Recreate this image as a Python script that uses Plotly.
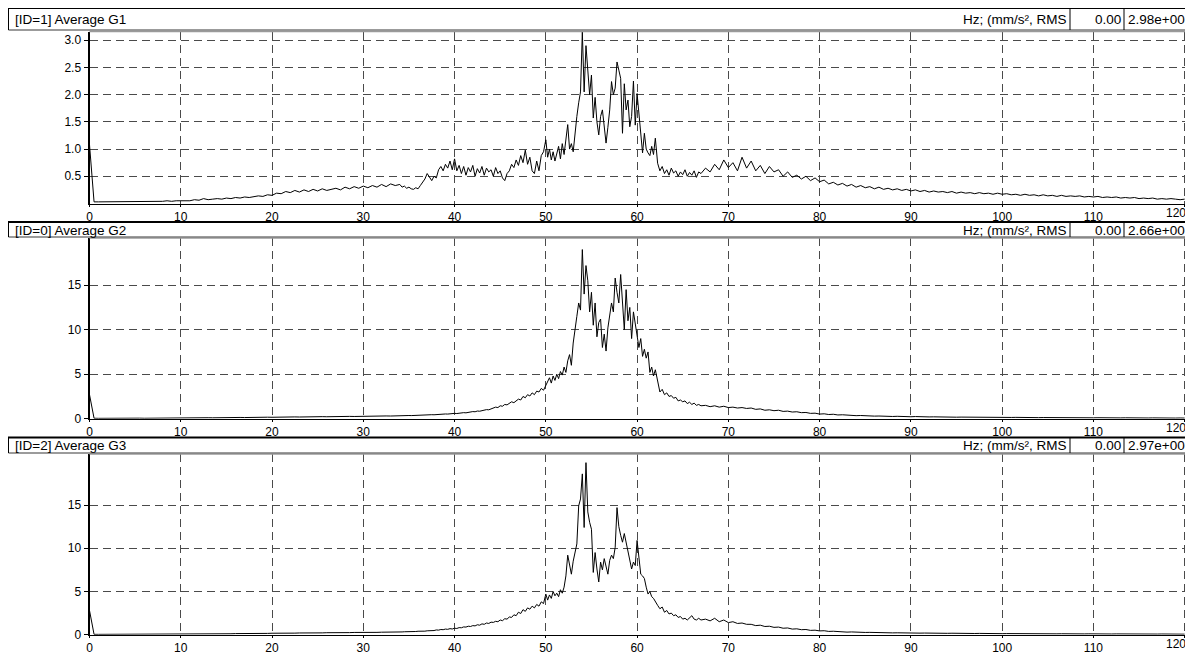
import plotly.graph_objects as go

# ---------------- data ----------------
# frequency grid: each series is stored in five segments, each segment
# starting at SEG_START with spacing SEG_STEP (Hz)
SEG_START = [0.0, 34.25, 50.2, 62.25, 67.5]
SEG_STEP = [0.5, 0.25, 0.2, 0.25, 0.5]

g1_low = [1.08, 0.03, 0.03, 0.03, 0.03, 0.03, 0.03, 0.03, 0.03, 0.03,
          0.03, 0.03, 0.03, 0.03, 0.03, 0.035, 0.04, 0.05, 0.04, 0.05,
          0.05, 0.06, 0.05, 0.07, 0.06, 0.09, 0.07, 0.08, 0.09, 0.08,
          0.10, 0.09, 0.11, 0.10, 0.12, 0.11, 0.13, 0.14, 0.13, 0.16,
          0.15, 0.19, 0.18, 0.22, 0.20, 0.24, 0.21, 0.25, 0.22, 0.26,
          0.23, 0.27, 0.24, 0.26, 0.28, 0.25, 0.30, 0.27, 0.31, 0.28,
          0.32, 0.29, 0.33, 0.30, 0.35, 0.31, 0.36, 0.33, 0.35]
g1_rise = [0.30, 0.32, 0.28, 0.30, 0.27, 0.26, 0.29, 0.27, 0.33, 0.38,
           0.45, 0.55, 0.48, 0.42, 0.50, 0.47, 0.62, 0.68, 0.60, 0.72,
           0.65, 0.78, 0.62, 0.82, 0.60, 0.70, 0.55, 0.68, 0.52, 0.66,
           0.58, 0.70, 0.50, 0.64, 0.56, 0.68, 0.52, 0.65, 0.58, 0.62,
           0.50, 0.66, 0.55, 0.60, 0.47, 0.42, 0.55, 0.60, 0.72, 0.66,
           0.80, 0.70, 0.88, 0.75, 0.98, 0.72, 0.85, 0.60, 0.55, 0.78,
           0.60, 0.88, 0.95, 1.17]
g1_peak = [0.85, 1.00, 0.80, 0.95, 0.78, 0.90, 1.05, 0.82, 1.10, 0.90,
           1.20, 1.45, 1.00, 1.10, 0.95, 1.30, 1.60, 1.85, 2.05, 3.15,
           2.05, 2.90, 2.40, 2.00, 2.36, 1.57, 1.95, 1.50, 1.26, 1.60,
           1.72, 1.35, 1.11, 1.40, 1.72, 2.24, 2.00, 2.12, 2.60, 2.45,
           2.30, 1.29, 2.20, 1.72, 1.90, 1.41, 1.60, 2.25, 1.44, 2.02,
           1.65, 1.41, 0.93, 1.29, 1.00, 0.93, 0.88, 1.05, 0.90, 1.20]
g1_fall = [0.74, 0.60, 0.68, 0.55, 0.62, 0.52, 0.65, 0.56, 0.60, 0.50,
           0.58, 0.53, 0.62, 0.50, 0.57, 0.52, 0.60, 0.48, 0.58, 0.55]
g1_tail = [0.65, 0.58, 0.72, 0.62, 0.80, 0.66, 0.75, 0.60, 0.85, 0.65,
           0.78, 0.60, 0.70, 0.55, 0.68, 0.58, 0.62, 0.50, 0.58, 0.48,
           0.52, 0.45, 0.50, 0.42, 0.47, 0.40, 0.43, 0.36, 0.39, 0.34,
           0.37, 0.32, 0.35, 0.30, 0.33, 0.29, 0.31, 0.27, 0.30, 0.26,
           0.28, 0.25, 0.27, 0.24, 0.26, 0.23, 0.25, 0.22, 0.24, 0.21,
           0.23, 0.21, 0.22, 0.20, 0.22, 0.19, 0.21, 0.19, 0.20, 0.18,
           0.20, 0.18, 0.19, 0.17, 0.19, 0.17, 0.18, 0.16, 0.17, 0.15,
           0.17, 0.15, 0.16, 0.14, 0.16, 0.14, 0.15, 0.13, 0.15, 0.13,
           0.14, 0.13, 0.14, 0.12, 0.13, 0.12, 0.13, 0.11, 0.12, 0.11,
           0.12, 0.10, 0.11, 0.10, 0.11, 0.09, 0.10, 0.09, 0.10, 0.08,
           0.09, 0.08, 0.09, 0.08, 0.07, 0.08]

g2_low = [2.70, 0.05, 0.04, 0.05, 0.04, 0.05, 0.05, 0.04, 0.05, 0.05,
          0.05, 0.06, 0.05, 0.06, 0.06, 0.07, 0.06, 0.07, 0.08, 0.07,
          0.08, 0.09, 0.08, 0.10, 0.09, 0.10, 0.11, 0.10, 0.12, 0.11,
          0.12, 0.13, 0.12, 0.14, 0.13, 0.15, 0.14, 0.16, 0.15, 0.17,
          0.16, 0.18, 0.17, 0.19, 0.18, 0.20, 0.19, 0.21, 0.20, 0.22,
          0.21, 0.23, 0.22, 0.24, 0.23, 0.25, 0.24, 0.26, 0.25, 0.27,
          0.27, 0.29, 0.28, 0.30, 0.29, 0.31, 0.30, 0.33, 0.32]
g2_rise = [0.33, 0.35, 0.34, 0.36, 0.35, 0.37, 0.36, 0.38, 0.40, 0.39,
           0.41, 0.43, 0.42, 0.45, 0.44, 0.47, 0.46, 0.50, 0.49, 0.53,
           0.52, 0.56, 0.55, 0.60, 0.58, 0.64, 0.62, 0.68, 0.66, 0.72,
           0.75, 0.80, 0.78, 0.86, 0.84, 0.92, 0.95, 1.02, 1.00, 1.10,
           1.15, 1.30, 1.25, 1.45, 1.40, 1.60, 1.55, 1.75, 1.90, 1.80,
           2.05, 2.20, 2.10, 2.50, 2.35, 2.70, 2.55, 2.90, 2.70, 3.10,
           3.00, 3.40, 3.20, 3.80]
g2_peak = [4.2, 4.6, 4.0, 4.8, 4.3, 5.0, 4.5, 5.3, 4.9, 5.8,
           5.2, 6.5, 7.2, 6.0, 8.5, 9.8, 11.5, 13.0, 12.2, 19.0,
           14.0, 17.2, 15.5, 12.0, 14.2, 10.5, 13.0, 9.2, 10.8, 11.2,
           8.0, 9.5, 7.6, 10.2, 11.5, 13.0, 12.0, 15.8, 14.2, 13.0,
           16.2, 12.5, 10.0, 14.5, 11.0, 12.5, 9.0, 12.0, 10.5, 9.0,
           8.0, 9.0, 7.0, 7.8, 6.8, 7.5, 5.2, 5.8, 4.8, 5.5]
g2_fall = [4.0, 3.0, 3.3, 2.7, 2.9, 2.5, 2.6, 2.3, 2.4, 2.0,
           2.1, 1.9, 2.0, 1.7, 1.85, 1.6, 1.75, 1.5, 1.6, 1.45]
g2_tail = [1.50, 1.35, 1.45, 1.30, 1.40, 1.25, 1.30, 1.20, 1.25, 1.15,
           1.20, 1.05, 1.10, 0.95, 1.00, 0.90, 0.95, 0.82, 0.85, 0.75,
           0.78, 0.68, 0.70, 0.60, 0.62, 0.52, 0.55, 0.47, 0.50, 0.42,
           0.44, 0.38, 0.40, 0.34, 0.36, 0.31, 0.33, 0.29, 0.30, 0.27,
           0.28, 0.25, 0.27, 0.24, 0.25, 0.22, 0.24, 0.21, 0.22, 0.20,
           0.21, 0.19, 0.20, 0.18, 0.19, 0.17, 0.18, 0.17, 0.18, 0.16,
           0.17, 0.15, 0.16, 0.15, 0.16, 0.14, 0.15, 0.14, 0.15, 0.13,
           0.14, 0.13, 0.14, 0.12, 0.13, 0.12, 0.13, 0.11, 0.12, 0.11,
           0.12, 0.10, 0.11, 0.10, 0.11, 0.10, 0.11, 0.09, 0.10, 0.09,
           0.10, 0.09, 0.10, 0.08, 0.09, 0.08, 0.09, 0.08, 0.09, 0.07,
           0.08, 0.07, 0.08, 0.07, 0.08, 0.07]

g3_low = [2.80, 0.04, 0.04, 0.04, 0.04, 0.04, 0.05, 0.04, 0.05, 0.04,
          0.05, 0.05, 0.05, 0.06, 0.05, 0.06, 0.06, 0.07, 0.06, 0.07,
          0.07, 0.08, 0.07, 0.09, 0.08, 0.10, 0.09, 0.10, 0.11, 0.10,
          0.12, 0.11, 0.13, 0.12, 0.14, 0.13, 0.15, 0.14, 0.16, 0.15,
          0.17, 0.16, 0.18, 0.17, 0.19, 0.18, 0.20, 0.19, 0.21, 0.20,
          0.22, 0.21, 0.23, 0.22, 0.24, 0.23, 0.25, 0.24, 0.26, 0.25,
          0.27, 0.26, 0.28, 0.27, 0.29, 0.28, 0.30, 0.29, 0.31]
g3_rise = [0.32, 0.34, 0.33, 0.36, 0.35, 0.38, 0.37, 0.40, 0.39, 0.42,
           0.41, 0.45, 0.44, 0.50, 0.48, 0.55, 0.53, 0.60, 0.58, 0.65,
           0.62, 0.70, 0.66, 0.75, 0.72, 0.82, 0.80, 0.90, 0.88, 0.98,
           0.95, 1.05, 1.02, 1.15, 1.10, 1.25, 1.20, 1.35, 1.30, 1.45,
           1.42, 1.55, 1.50, 1.70, 1.62, 1.85, 1.80, 2.05, 2.00, 2.30,
           2.20, 2.60, 2.45, 2.90, 2.70, 3.10, 2.95, 3.30, 3.10, 3.50,
           3.30, 3.80, 3.60, 4.70]
g3_peak = [4.0, 4.6, 4.2, 5.0, 4.5, 4.8, 4.4, 5.2, 4.8, 5.5,
           6.8, 9.2, 8.0, 7.0, 8.5, 9.6, 10.5, 14.9, 15.7, 18.6,
           12.4, 19.9, 14.2, 13.0, 12.2, 7.2, 9.5, 7.6, 6.1, 8.4,
           7.5, 8.8, 7.8, 7.0, 8.6, 9.2, 8.8, 10.1, 14.7, 12.5,
           11.5, 10.7, 11.7, 10.7, 9.5, 8.8, 7.6, 8.4, 8.0, 10.9,
           8.5, 7.0, 6.8, 6.5, 5.5, 4.7, 5.0, 4.4, 4.2, 3.8]
g3_fall = [3.4, 3.0, 3.2, 2.6, 2.8, 2.4, 2.5, 2.2, 2.3, 2.0,
           2.1, 1.8, 1.9, 1.7, 1.9, 2.2, 1.8, 1.7, 1.9, 1.7]
g3_tail = [1.80, 1.60, 1.90, 1.50, 1.70, 1.40, 1.50, 1.30, 1.35, 1.20,
           1.20, 1.05, 1.10, 0.95, 0.98, 0.85, 0.88, 0.75, 0.78, 0.65,
           0.68, 0.58, 0.60, 0.50, 0.52, 0.44, 0.46, 0.38, 0.40, 0.34,
           0.35, 0.30, 0.32, 0.28, 0.29, 0.26, 0.27, 0.24, 0.25, 0.22,
           0.23, 0.21, 0.22, 0.20, 0.21, 0.19, 0.20, 0.18, 0.19, 0.17,
           0.18, 0.16, 0.17, 0.16, 0.17, 0.15, 0.16, 0.14, 0.15, 0.14,
           0.15, 0.13, 0.14, 0.13, 0.14, 0.12, 0.13, 0.12, 0.13, 0.11,
           0.12, 0.11, 0.12, 0.10, 0.11, 0.10, 0.11, 0.10, 0.11, 0.09,
           0.10, 0.09, 0.10, 0.09, 0.10, 0.08, 0.09, 0.08, 0.09, 0.08,
           0.09, 0.08, 0.09, 0.07, 0.08, 0.07, 0.08, 0.07, 0.08, 0.07,
           0.08, 0.07, 0.08, 0.07, 0.07, 0.06]

titles = ["[ID=1] Average G1", "[ID=0] Average G2", "[ID=2] Average G3"]
unit_label = "Hz; (mm/s², RMS"
cursor_x = ["0.00", "0.00", "0.00"]
cursor_y = ["2.98e+00", "2.66e+00", "2.97e+00"]
x_ticks = [0, 10, 20, 30, 40, 50, 60, 70, 80, 90, 100, 110, 120]
y_ticks = [[0.5, 1.0, 1.5, 2.0, 2.5, 3.0], [0, 5, 10, 15], [0, 5, 10, 15]]
y_max = [3.16, 20.3, 20.9]

series = [
    [g1_low, g1_rise, g1_peak, g1_fall, g1_tail],
    [g2_low, g2_rise, g2_peak, g2_fall, g2_tail],
    [g3_low, g3_rise, g3_peak, g3_fall, g3_tail],
]

# ---------------- layout geometry (screen pixels) ----------------
# the page body has an 8px margin, so the figure starts at (8, 8) on screen
OFF = 8
FW, FH = 1193 - OFF, 653 - OFF
FONT = "Liberation Sans, Arial, sans-serif"
# (header top, header bottom, plot top, plot bottom) in screen pixels
panels_px = [(8, 30, 31.5, 203.5), (222, 237, 238, 418.7), (437.5, 453, 454, 634.7)]
X_LEFT, X_RIGHT = 89.5, 1186.5
HDR_L, HDR_R = 8.5, 1188
SEP1, SEP2 = 1070, 1124


def fx(p):
    return (p - OFF) / FW


def fy(p):
    return 1 - (p - OFF) / FH


def build(segs):
    xs, ys = [], []
    for start, step, vals in zip(SEG_START, SEG_STEP, segs):
        for i, v in enumerate(vals):
            xs.append(round(start + step * i, 4))
            ys.append(v)
    return xs, ys


fig = go.Figure()
shapes = []
annotations = []
layout_axes = {}

for k in range(3):
    n = "" if k == 0 else str(k + 1)
    xs, ys = build(series[k])
    fig.add_trace(go.Scatter(
        x=xs, y=ys, mode="lines", line=dict(color="black", width=1),
        xaxis="x" + n, yaxis="y" + n, showlegend=False, hoverinfo="x+y"))

    htop, hbot, ptop, pbot = panels_px[k]
    grid = dict(showgrid=True, gridcolor="#4a4a4a", gridwidth=1, griddash="8px,5px")
    xt = ["" if v == 120 else str(v) for v in x_ticks]
    layout_axes["xaxis" + n] = dict(
        domain=[fx(X_LEFT), fx(X_RIGHT)], range=[0, 120.2], anchor="y" + n,
        tickvals=x_ticks, ticktext=xt, ticks="outside", ticklen=2, tickcolor="black",
        showline=True, linecolor="black", linewidth=1, zeroline=False,
        tickfont=dict(family=FONT, size=12, color="black"), fixedrange=True, **grid)
    yt = [("%.1f" % v) if k == 0 else str(v) for v in y_ticks[k]]
    layout_axes["yaxis" + n] = dict(
        domain=[fy(pbot), fy(ptop)], range=[0, y_max[k]], anchor="x" + n,
        tickvals=y_ticks[k], ticktext=yt, ticks="outside", ticklen=4, tickcolor="black",
        showline=True, linecolor="black", linewidth=2, zeroline=False,
        tickfont=dict(family=FONT, size=12, color="black"), fixedrange=True, **grid)

    # last x tick label, pulled inside the frame like the reference
    annotations.append(dict(xref="paper", yref="paper", x=fx(1188), y=fy(pbot + 9.5),
                            text="120", showarrow=False, xanchor="right", yanchor="middle",
                            font=dict(family=FONT, size=12, color="black")))

    # plot frame: gray top and right edges
    shapes.append(dict(type="line", xref="paper", yref="paper", layer="above",
                       x0=fx(X_LEFT), x1=fx(HDR_R), y0=fy(ptop), y1=fy(ptop),
                       line=dict(color="#9a9a9a", width=1.5)))
    shapes.append(dict(type="line", xref="paper", yref="paper", layer="above",
                       x0=fx(1187), x1=fx(1187), y0=fy(ptop), y1=fy(pbot),
                       line=dict(color="#8a8a8a", width=2)))

    # header bar
    shapes.append(dict(type="rect", xref="paper", yref="paper", layer="above",
                       x0=fx(HDR_L), x1=fx(HDR_R), y0=fy(hbot), y1=fy(htop),
                       fillcolor="white", line=dict(width=0)))
    shapes.append(dict(type="line", xref="paper", yref="paper", layer="above",
                       x0=fx(HDR_L - 0.5), x1=fx(HDR_R + 1), y0=fy(htop), y1=fy(htop),
                       line=dict(color="black", width=2)))
    shapes.append(dict(type="line", xref="paper", yref="paper", layer="above",
                       x0=fx(HDR_L), x1=fx(HDR_R), y0=fy(hbot), y1=fy(hbot),
                       line=dict(color="#7a7a7a", width=1.5)))
    shapes.append(dict(type="line", xref="paper", yref="paper", layer="above",
                       x0=fx(HDR_L), x1=fx(HDR_L), y0=fy(hbot), y1=fy(htop),
                       line=dict(color="black", width=1)))
    shapes.append(dict(type="line", xref="paper", yref="paper", layer="above",
                       x0=fx(HDR_R), x1=fx(HDR_R), y0=fy(hbot), y1=fy(htop),
                       line=dict(color="black", width=2)))
    for sx in (SEP1, SEP2):
        shapes.append(dict(type="line", xref="paper", yref="paper", layer="above",
                           x0=fx(sx), x1=fx(sx), y0=fy(hbot), y1=fy(htop),
                           line=dict(color="black", width=1)))

    ymid = fy((htop + hbot) / 2 + 0.5)
    hfont = dict(family=FONT, size=13.5, color="black")
    annotations += [
        dict(xref="paper", yref="paper", x=fx(HDR_L + 4), y=ymid, text=titles[k],
             showarrow=False, xanchor="left", yanchor="middle", font=hfont),
        dict(xref="paper", yref="paper", x=fx(SEP1 - 1), y=ymid, text=unit_label,
             showarrow=False, xanchor="right", yanchor="middle", font=hfont),
        dict(xref="paper", yref="paper", x=fx(SEP2 - 1), y=ymid, text=cursor_x[k],
             showarrow=False, xanchor="right", yanchor="middle", font=hfont),
        dict(xref="paper", yref="paper", x=fx(SEP2 + 2), y=ymid, text=cursor_y[k],
             showarrow=False, xanchor="left", yanchor="middle", font=hfont),
    ]

fig.update_layout(
    width=FW, height=FH, margin=dict(l=0, r=0, t=0, b=0, autoexpand=False),
    paper_bgcolor="white", plot_bgcolor="white", showlegend=False,
    font=dict(family=FONT, size=12, color="black"),
    shapes=shapes, annotations=annotations, **layout_axes)

fig.write_html("out.html", config={"displayModeBar": False})
